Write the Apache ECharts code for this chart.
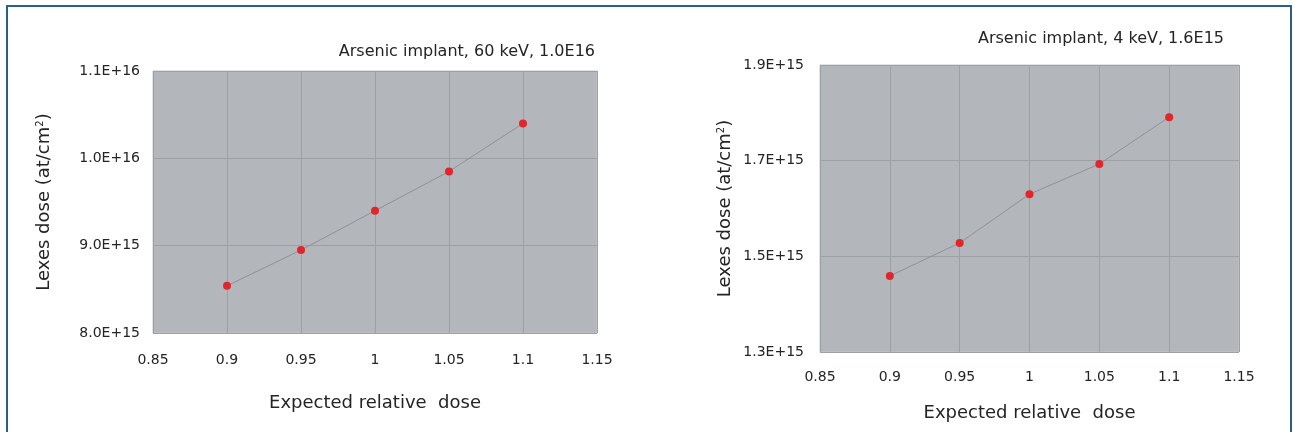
<!DOCTYPE html>
<html>
<head>
<meta charset="utf-8">
<script src="https://cdn.jsdelivr.net/npm/echarts@6/dist/echarts.min.js"></script>
<style>
html,body{margin:0;padding:0;background:#fff;}
#chart{width:1293px;height:432px;}
</style>
</head>
<body>
<div id="chart"></div>
<script>
// Data
const relDose = [0.9, 0.95, 1.0, 1.05, 1.1];
const lexes60keV = [8.54e15, 8.95e15, 9.40e15, 9.85e15, 1.040e16];
const lexes4keV = [1.459e15, 1.528e15, 1.630e15, 1.693e15, 1.791e15];
const titleLeft = 'Arsenic implant, 60 keV, 1.0E16';
const titleRight = 'Arsenic implant, 4 keV, 1.6E15';
const xName = 'Expected relative  dose';
const yName = 'Lexes dose (at/cm{sup|2})';

const font = '"DejaVu Sans", "Liberation Sans", Arial, sans-serif';
const textColor = '#242424';
const plotBg = '#b3b6ba';
const gridLine = '#9da0a4';

function fmtY(v){ return v.toExponential(1).toUpperCase(); }
function fmtX(v){ return String(Math.round(v*100)/100); }

function xAxis(gridIndex, gap, labelMargin){
  return {
    type:'value', gridIndex, min:0.85, max:1.15, interval:0.05,
    name:xName, nameLocation:'middle', nameGap:gap,
    nameTextStyle:{fontFamily:font, fontSize:18, color:textColor},
    axisLine:{show:false}, axisTick:{show:false},
    axisLabel:{formatter:fmtX, fontFamily:font, fontSize:14, color:textColor, margin:labelMargin},
    splitLine:{show:true, lineStyle:{color:gridLine, width:1}}
  };
}
function yAxis(gridIndex, min, max, interval, gap, labelMargin){
  return {
    type:'value', gridIndex, min, max, interval,
    name:yName, nameLocation:'middle', nameGap:gap,
    nameTextStyle:{fontFamily:font, fontSize:18, color:textColor,
      rich:{sup:{fontSize:10, verticalAlign:'top', fontFamily:font, color:textColor, padding:[0,0,7,0]}}},
    axisLine:{show:false}, axisTick:{show:false},
    axisLabel:{formatter:fmtY, fontFamily:font, fontSize:14, color:textColor, margin:labelMargin},
    splitLine:{show:true, lineStyle:{color:gridLine, width:1}}
  };
}
function series(idx, ys){
  return {
    type:'line', xAxisIndex:idx, yAxisIndex:idx,
    data: relDose.map((x,i)=>[x, ys[i]]),
    symbol:'circle', symbolSize:8,
    itemStyle:{color:'#e0262b'},
    lineStyle:{color:'#8e9195', width:1},
    z:3
  };
}

const chart = echarts.init(document.getElementById('chart'), null, {renderer:'canvas'});
chart.setOption({
  animation:false,
  backgroundColor:'#ffffff',
  title:[
    {text:titleLeft, right:1293-600, top:39, textStyle:{fontFamily:font, fontSize:16, fontWeight:'normal', color:textColor}},
    {text:titleRight, right:1293-1229, top:26, textStyle:{fontFamily:font, fontSize:16, fontWeight:'normal', color:textColor}}
  ],
  grid:[
    {left:153, top:71, width:444, height:262, show:true, backgroundColor:plotBg, borderColor:'#c4c6c9', borderWidth:1},
    {left:820, top:65, width:419, height:287, show:true, backgroundColor:plotBg, borderColor:'#c4c6c9', borderWidth:1}
  ],
  xAxis:[ xAxis(0, 61, 20), xAxis(1, 52, 18) ],
  yAxis:[ yAxis(0, 8e15, 1.1e16, 1e15, 100, 13), yAxis(1, 1.3e15, 1.9e15, 0.2e15, 86, 16) ],
  series:[ series(0, lexes60keV), series(1, lexes4keV) ],
  graphic:[
    {type:'polyline', shape:{points:[[7,432],[7,6],[1291,6],[1291,432]]},
     style:{stroke:'#2a5f86', lineWidth:2, fill:null}, silent:true}
  ]
});
</script>
</body>
</html>
